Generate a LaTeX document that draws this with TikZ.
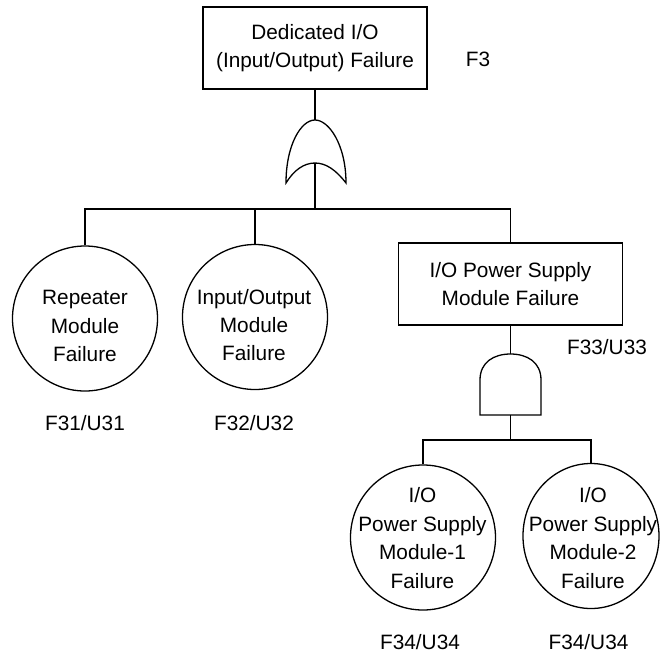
\documentclass[tikz,border=0pt]{standalone}
\usepackage{fontspec}
\setmainfont{Liberation Sans}
\usetikzlibrary{shapes.geometric}

\tikzset{
  gatebox/.style={draw, rectangle, minimum width=112pt, minimum height=41pt, align=center},
  basic/.style={draw, ellipse, minimum width=72.5pt, minimum height=72.5pt, inner sep=0pt},
  words/.style={align=center},
}

\begin{document}
\begin{tikzpicture}[x=0.5pt, y=-0.5pt, line width=0.65pt, font=\fontsize{10.4}{14.2}\selectfont]
  \useasboundingbox (0,0) rectangle (660,655);

  % Coordinates
  \coordinate (OrTop) at (315,120);
  \coordinate (OrBot) at (315,163);
  \coordinate (AndTop) at (510.5,354);
  \coordinate (AndBot) at (510.5,415);
  \coordinate (BusA) at (315,209);
  \coordinate (BusB) at (510.5,440);

  % Events
  \node[gatebox] (Top) at (315,48) {Dedicated I/O\\(Input/Output) Failure};
  \node[gatebox] (PSU) at (510.5,284) {I/O Power Supply\\Module Failure};
  \node[basic] (Rep) at (85,318.5) {};
  \node[basic] (IOM) at (255,317) {};
  \node[basic] (PSU1) at (423,537.5) {};
  \node[basic, minimum width=68pt] (PSU2) at (591,536) {};
  \node[words] (RepText) at (85,326) {Repeater\\Module\\Failure};
  \node[words] (IOMText) at (254,325) {Input/Output\\Module\\Failure};
  \node[words] (PSU1Text) at (422.5,538) {I/O\\Power Supply\\Module-1\\Failure};
  \node[words] (PSU2Text) at (593,538) {I/O\\Power Supply\\Module-2\\Failure};

  % Codes
  \node (LTop) at (478,59) {F3};
  \node (LPSU) at (607,347) {F33/U33};
  \node (LRep) at (85,423.5) {F31/U31};
  \node (LIOM) at (254,423.5) {F32/U32};
  \node (LPSU1) at (420,642) {F34/U34};
  \node (LPSU2) at (588.5,642) {F34/U34};

  % Gates
  \draw (286,183) .. controls (286,145) and (301,120) .. (OrTop)
        .. controls (329,120) and (346,145) .. (346,183)
        .. controls (336,170) and (326,163) .. (OrBot)
        .. controls (304,163) and (294,170) .. (286,183) -- cycle;
  \draw (480,415) -- (480,380) .. controls (480,362) and (494,354) .. (AndTop)
        .. controls (527,354) and (541,362) .. (541,380) -- (541,415) -- cycle;

  % Drawing
  \draw (Top.south) -- (OrTop);
  \draw (OrBot) -- (BusA);
  \draw (Rep.north) |- (BusA) -| (PSU.north);
  \draw (IOM.north) -- (IOM.north |- BusA);
  \draw (PSU.south) -- (AndTop);
  \draw (AndBot) -- (BusB);
  \draw (PSU1.north) |- (BusB) -| (PSU2.north);
\end{tikzpicture}
\end{document}
